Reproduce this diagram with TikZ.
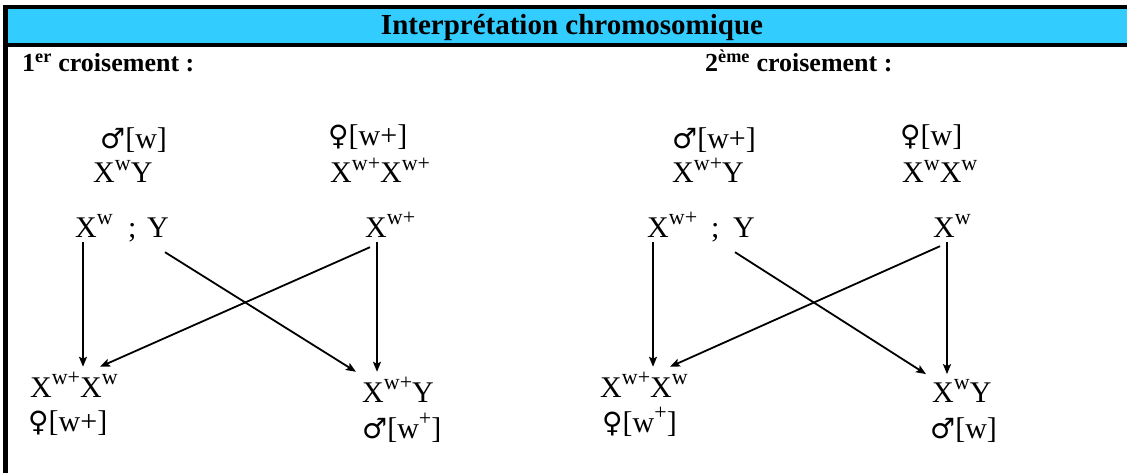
\documentclass[tikz,border=0pt]{standalone}
\usepackage{fontspec}
\setmainfont{Liberation Serif}
\newfontfamily\symfont{DejaVu Sans}
\usetikzlibrary{arrows.meta}
\definecolor{bandcyan}{RGB}{51,204,255}
\newcommand{\expo}[1]{\raisebox{0.42em}{\fontsize{22}{22}\selectfont #1}}
\newcommand{\symmale}{{\symfont\fontsize{28}{28}\selectfont ♂}}
\newcommand{\symfemale}{{\symfont\fontsize{28}{28}\selectfont ♀}}
\tikzset{
  geno/.style={
    anchor=base west,
    inner xsep=0pt,
    inner ysep=5pt,
    font=\fontsize{30}{32}\selectfont,
  },
  pheno/.style={geno, inner ysep=0pt},
  head/.style={
    anchor=base west,
    inner sep=0pt,
    font=\fontsize{26}{28}\selectfont\bfseries,
  },
  arr/.style={-{Stealth[length=10pt, width=8pt, inset=2pt]}, line width=1.8pt},
}
\begin{document}
\begin{tikzpicture}[x=1pt, y=-1pt]
  \useasboundingbox (0,0) rectangle (1127,473);
  % frame and title band
  \fill[bandcyan] (8,9) rectangle (1127,43);
  \fill[black] (3,5) rectangle (1127,9);
  \fill[black] (8,43) rectangle (1127,47);
  \fill[black] (3,5) rectangle (8,473);
  \node[anchor=base, inner sep=0pt, font=\fontsize{29}{30}\selectfont\bfseries]
    (title) at (572,35) {Interprétation chromosomique};
  \node[head] (cross1) at (22,72) {1\textsuperscript{er} croisement :};
  \node[head] (cross2) at (705,72) {2\textsuperscript{ème} croisement :};

  % 1er croisement
  \node[pheno] (p1m) at (100,149) {\symmale[w]};
  \node[pheno] (p1mg) at (93,183) {X\expo{w}Y};
  \node[pheno] (p1f) at (328,146) {\symfemale[w+]};
  \node[pheno] (p1fg) at (330,183) {X\expo{w+}X\expo{w+}};
  \node[geno] (g1x) at (75,237) {X\expo{w}};
  \node[geno] (g1s) at (128,237) {;};
  \node[geno] (g1y) at (147,237) {Y};
  \node[geno] (g1z) at (365,237) {X\expo{w+}};
  \node[geno] (o1f) at (30,397) {X\expo{w+}X\expo{w}};
  \node[pheno] (o1fp) at (28,431) {\symfemale[w+]};
  \node[geno] (o1m) at (362,402) {X\expo{w+}Y};
  \node[pheno] (o1mp) at (362,438) {\symmale[w\expo{+}]};

  \draw[arr] ([xshift=8pt]g1x.south west) -- ([xshift=8pt]g1x.south west |- o1f.north);
  \draw[arr] ([shift={(18pt,-10pt)}]g1y.south west) -- ([xshift=-6pt]o1m.north west);
  \draw[arr] ([shift={(5pt,-5pt)}]g1z.south west) -- ([xshift=70pt]o1f.north west);
  \draw[arr] ([xshift=12pt]g1z.south west) -- ([xshift=12pt]g1z.south west |- o1m.north);

  % 2eme croisement
  \node[pheno] (p2m) at (672,149) {\symmale[w+]};
  \node[pheno] (p2mg) at (672,183) {X\expo{w+}Y};
  \node[pheno] (p2f) at (900,146) {\symfemale[w]};
  \node[pheno] (p2fg) at (902,183) {X\expo{w}X\expo{w}};
  \node[geno] (g2x) at (647,237) {X\expo{w+}};
  \node[geno] (g2s) at (711,237) {;};
  \node[geno] (g2y) at (733,237) {Y};
  \node[geno] (g2z) at (933,237) {X\expo{w}};
  \node[geno] (o2f) at (600,397) {X\expo{w+}X\expo{w}};
  \node[pheno] (o2fp) at (602,432) {\symfemale[w\expo{+}]};
  \node[geno] (o2m) at (932,402) {X\expo{w}Y};
  \node[pheno] (o2mp) at (930,438) {\symmale[w]};

  \draw[arr] ([xshift=6pt]g2x.south west) -- ([xshift=6pt]g2x.south west |- o2f.north);
  \draw[arr] ([shift={(2pt,-10pt)}]g2y.south west) -- ([xshift=-6pt]o2m.north west);
  \draw[arr] ([shift={(7pt,-4pt)}]g2z.south west) -- ([xshift=70pt]o2f.north west);
  \draw[arr] ([xshift=14pt]g2z.south west) -- ([xshift=14pt]g2z.south west |- o2m.north);
\end{tikzpicture}
\end{document}
